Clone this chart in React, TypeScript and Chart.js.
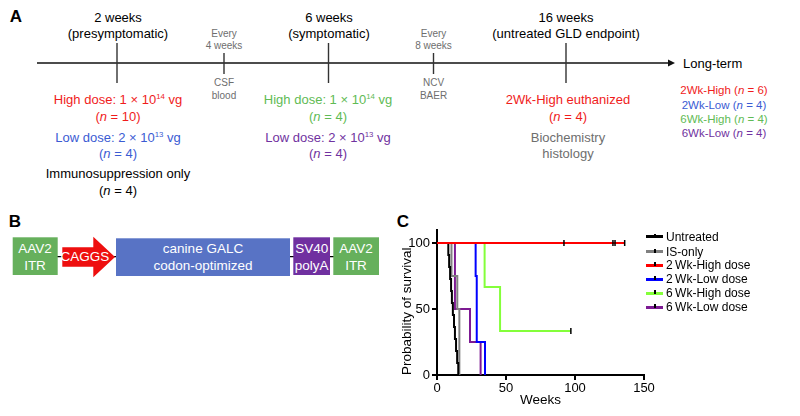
import React, { useEffect, useRef } from "react";
import { Chart, registerables } from "chart.js";
Chart.register(...registerables);

// ---------- Data (panel C: Kaplan–Meier survival) ----------
const seriesNames = ["Untreated", "IS-only", "2\u2009Wk-High dose", "2\u2009Wk-Low dose", "6\u2009Wk-High dose", "6\u2009Wk-Low dose"];
const seriesColors = ["#000000", "#808080", "#ff0000", "#0000ff", "#84ff3a", "#7d1a93"];

const untreatedWeeks = [0, 8.2, 8.8, 9.5, 10.2, 10.8, 11.5, 12.3, 13.0, 13.8, 14.6, 15.4];
const untreatedSurvival = [100, 90.9, 81.8, 72.7, 63.6, 54.5, 45.5, 36.4, 27.3, 18.2, 9.1, 0];

const isOnlyWeeks = [0, 10.5, 14.7, 16.2];
const isOnlySurvival = [100, 75, 50, 0];

const wk2HighWeeks = [0, 136];
const wk2HighSurvival = [100, 100];
const wk2HighCensorWeeks = [92, 127.5, 129, 136];
const wk2HighCensorSurvival = [100, 100, 100, 100];

const wk2LowWeeks = [0, 28, 28.8, 34.8];
const wk2LowSurvival = [100, 75, 25, 0];

const wk6HighWeeks = [0, 34.5, 45.7, 97];
const wk6HighSurvival = [100, 66.7, 33.3, 33.3];
const wk6HighCensorWeeks = [97];
const wk6HighCensorSurvival = [33.3];

const wk6LowWeeks = [0, 13, 23.9, 31.6];
const wk6LowSurvival = [100, 50, 25, 0];

const xTicks = [0, 50, 100, 150];
const yTicks = [0, 50, 100];

const FONT = "'Liberation Sans', Arial, Helvetica, sans-serif";

const pts = (xs: number[], ys: number[]) => xs.map((x, i) => ({ x, y: ys[i] }));

function SurvivalChart() {
  const ref = useRef<HTMLCanvasElement>(null);
  useEffect(() => {
    const curves = [
      [untreatedWeeks, untreatedSurvival],
      [isOnlyWeeks, isOnlySurvival],
      [wk2HighWeeks, wk2HighSurvival],
      [wk2LowWeeks, wk2LowSurvival],
      [wk6HighWeeks, wk6HighSurvival],
      [wk6LowWeeks, wk6LowSurvival],
    ];
    const datasets: any[] = curves.map((c, i) => ({
      label: seriesNames[i],
      data: pts(c[0], c[1]),
      borderColor: seriesColors[i],
      backgroundColor: seriesColors[i],
      borderWidth: 2,
      stepped: "before",
      pointRadius: 0,
      fill: false,
      order: i === 2 ? -1 : 0,
    }));
    const censor = (xs: number[], ys: number[]) => ({
      label: "censored",
      data: pts(xs, ys),
      showLine: false,
      pointStyle: "line",
      rotation: 90,
      pointRadius: 3,
      pointBorderColor: "#000",
      pointBorderWidth: 1.5,
      order: -2,
    });
    datasets.push(censor(wk2HighCensorWeeks, wk2HighCensorSurvival));
    datasets.push(censor(wk6HighCensorWeeks, wk6HighCensorSurvival));

    const chart = new Chart(ref.current!, {
      type: "line",
      data: { datasets },
      options: {
        responsive: false,
        animation: false,
        devicePixelRatio: 1,
        layout: { padding: { top: 9, right: 16, bottom: 0, left: 0 } },
        plugins: { legend: { display: false }, tooltip: { enabled: false } },
        scales: {
          x: {
            type: "linear",
            min: 0,
            max: 150,
            afterBuildTicks: (s: any) => {
              s.ticks = xTicks.map((v) => ({ value: v }));
            },
            afterFit: (s: any) => {
              s.height = 41;
            },
            grid: { display: true, drawOnChartArea: false, drawTicks: true, tickLength: 5, color: "#000", lineWidth: 2 },
            border: { display: true, color: "#000", width: 2 },
            ticks: { color: "#000", font: { family: FONT, size: 13 }, padding: 1, maxRotation: 0 },
            title: { display: true, text: "Weeks", color: "#000", font: { family: FONT, size: 13.5 }, padding: { top: 0, bottom: 8 } },
          },
          y: {
            type: "linear",
            min: 0,
            max: 110,
            afterBuildTicks: (s: any) => {
              s.ticks = yTicks.map((v) => ({ value: v }));
            },
            afterFit: (s: any) => {
              s.width = 42;
            },
            grid: { display: true, drawOnChartArea: false, drawTicks: true, tickLength: 5, color: "#000", lineWidth: 2 },
            border: { display: true, color: "#000", width: 2 },
            ticks: { color: "#000", font: { family: FONT, size: 13 }, padding: 2 },
            title: { display: true, text: "Probability of survival", align: "start", color: "#000", font: { family: FONT, size: 13.5 }, padding: { top: 4, bottom: 0 } },
          },
        },
      } as any,
    });
    return () => chart.destroy();
  }, []);
  return (
    <canvas
      ref={ref}
      width={265}
      height={196}
      style={{ position: "absolute", left: 395, top: 220, width: 265, height: 196 }}
    />
  );
}

// ---------- helpers for diagram panels ----------
function T(props: { x: number; y: number; c?: string; s?: number; b?: boolean; left?: boolean; f?: string; children: any }) {
  const { x, y, c = "#000", s = 13, b = false, left = false, f = FONT, children } = props;
  return (
    <div
      style={{
        position: "absolute",
        left: x,
        top: y,
        transform: left ? "translate(0,-50%)" : "translate(-50%,-50%)",
        whiteSpace: "nowrap",
        fontFamily: f,
        fontSize: s,
        fontWeight: b ? "bold" : "normal",
        color: c,
        lineHeight: 1,
      }}
    >
      {children}
    </div>
  );
}

const Sup = ({ children }: any) => (
  <sup style={{ fontSize: "0.6em", verticalAlign: "0.55em", lineHeight: 0 }}>{children}</sup>
);
const N = ({ v }: { v: string }) => (
  <span>
    (<i>n</i> = {v})
  </span>
);

const RED = "#f01c1c";
const BLUE = "#3b5bd3";
const GREEN = "#5fbb55";
const PURPLE = "#7032a0";
const GREY = "#6e6e6e";

const legendRows = [236.7, 251.7, 265.3, 279.3, 293.3, 307.3];

export default function App() {
  return (
    <div style={{ position: "absolute", left: 0, top: 0, width: 800, height: 416, background: "#fff", overflow: "hidden" }}>
      {/* Panel labels */}
      <T x={16} y={16} s={17} b>A</T>
      <T x={15} y={221} s={17} b>B</T>
      <T x={403} y={221} s={17} b>C</T>

      {/* Timeline */}
      <svg width={800} height={416} style={{ position: "absolute", left: 0, top: 0 }}>
        <line x1={37} y1={63} x2={670} y2={63} stroke="#111" strokeWidth={1.6} />
        <polygon points="668,59.5 675,63 668,66.5" fill="#111" />
        <line x1={117} y1={43} x2={117} y2={83} stroke="#333" strokeWidth={1.4} />
        <line x1={224} y1={53} x2={224} y2={74} stroke="#333" strokeWidth={1.4} />
        <line x1={328.5} y1={43} x2={328.5} y2={83} stroke="#333" strokeWidth={1.4} />
        <line x1={433.5} y1={53} x2={433.5} y2={74} stroke="#333" strokeWidth={1.4} />
        <line x1={566} y1={43} x2={566} y2={83} stroke="#333" strokeWidth={1.4} />

        {/* Panel B construct */}
        <line x1={57} y1={256.7} x2={334} y2={256.7} stroke="#000" strokeWidth={1.2} />
        <rect x={12.7} y={237.3} width={45} height={37.7} fill="#66b05c" />
        <polygon points="62.3,247.3 93.3,247.3 93.3,236.7 115,257 93.3,277.3 93.3,266.7 62.3,266.7" fill="#ee0f0f" />
        <rect x={116} y={238.3} width={174} height={37.7} fill="#5873c5" />
        <rect x={293.3} y={237.3} width={36.7} height={37.7} fill="#7030a0" />
        <rect x={333.3} y={237.3} width={45.7} height={37.7} fill="#66b05c" />
      </svg>

      {/* Column 1: 2 weeks */}
      <T x={118} y={16.7}>2 weeks</T>
      <T x={118} y={33.3}>(presymptomatic)</T>
      <T x={118} y={99.3} c={RED}>High dose: 1 × 10<Sup>14</Sup> vg</T>
      <T x={118} y={115.7} c={RED}><N v="10" /></T>
      <T x={118} y={136.7} c={BLUE}>Low dose: 2 × 10<Sup>13</Sup> vg</T>
      <T x={118} y={153.3} c={BLUE}><N v="4" /></T>
      <T x={118} y={173.3}>Immunosuppression only</T>
      <T x={118} y={190}><N v="4" /></T>

      {/* Every 4 weeks */}
      <T x={224} y={34.3} s={10} c={GREY}>Every</T>
      <T x={224} y={46} s={10} c={GREY}>4 weeks</T>
      <T x={224} y={83.3} s={10} c={GREY}>CSF</T>
      <T x={224} y={96} s={10} c={GREY}>blood</T>

      {/* Column 2: 6 weeks */}
      <T x={329} y={16.7}>6 weeks</T>
      <T x={329} y={33.3}>(symptomatic)</T>
      <T x={328} y={99.3} c={GREEN}>High dose: 1 × 10<Sup>14</Sup> vg</T>
      <T x={328} y={115.7} c={GREEN}><N v="4" /></T>
      <T x={328} y={136.7} c={PURPLE}>Low dose: 2 × 10<Sup>13</Sup> vg</T>
      <T x={328} y={153.3} c={PURPLE}><N v="4" /></T>

      {/* Every 8 weeks */}
      <T x={433.5} y={34.3} s={10} c={GREY}>Every</T>
      <T x={433.5} y={46} s={10} c={GREY}>8 weeks</T>
      <T x={433.5} y={83.3} s={10} c={GREY}>NCV</T>
      <T x={433.5} y={96} s={10} c={GREY}>BAER</T>

      {/* Column 3: 16 weeks */}
      <T x={566} y={16.7}>16 weeks</T>
      <T x={566} y={33.3}>(untreated GLD endpoint)</T>
      <T x={568} y={99.3} c={RED}>2Wk-High euthanized</T>
      <T x={568} y={115.7} c={RED}><N v="4" /></T>
      <T x={568} y={136.7} c={GREY}>Biochemistry</T>
      <T x={568} y={153.3} c={GREY}>histology</T>

      <T x={683} y={63} left>Long-term</T>
      <T x={724} y={91} s={11.5} c={RED}>2Wk-High <N v="6" /></T>
      <T x={724} y={105.7} s={11.5} c={BLUE}>2Wk-Low <N v="4" /></T>
      <T x={724} y={119.7} s={11.5} c={GREEN}>6Wk-High <N v="4" /></T>
      <T x={724} y={134} s={11.5} c={PURPLE}>6Wk-Low <N v="4" /></T>

      {/* Panel B texts */}
      <T x={35} y={249.3} c="#fff" s={13.5}>AAV2</T>
      <T x={35} y={266} c="#fff" s={13.5}>ITR</T>
      <T x={85} y={257.3} c="#fff" s={13.5}>CAGGS</T>
      <T x={203} y={249.3} c="#fff" s={13.5}>canine GALC</T>
      <T x={203} y={266} c="#fff" s={13.5}>codon-optimized</T>
      <T x={311.7} y={249.3} c="#fff" s={13.5}>SV40</T>
      <T x={311.7} y={266} c="#fff" s={13.5}>polyA</T>
      <T x={356} y={249.3} c="#fff" s={13.5}>AAV2</T>
      <T x={356} y={266} c="#fff" s={13.5}>ITR</T>

      {/* Panel C chart */}
      <SurvivalChart />

      {/* Panel C legend */}
      {seriesNames.map((name, i) => (
        <React.Fragment key={name}>
          <div style={{ position: "absolute", left: 646, top: legendRows[i] - 1.25, width: 17, height: 2.5, background: seriesColors[i] }} />
          <div style={{ position: "absolute", left: 654, top: legendRows[i] - 3, width: 1.5, height: 4, background: "#000" }} />
          <T x={666} y={legendRows[i]} s={12} left>{name}</T>
        </React.Fragment>
      ))}
    </div>
  );
}
